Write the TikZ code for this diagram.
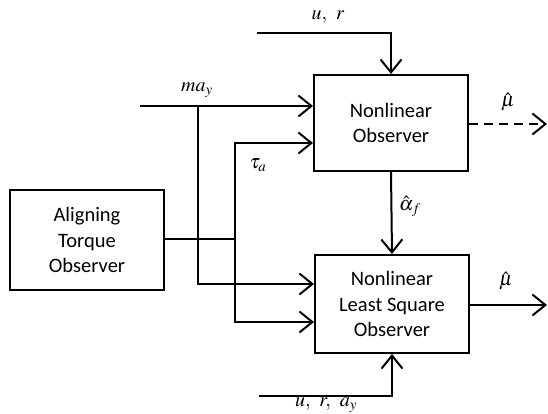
\documentclass[tikz,border=0pt]{standalone}
\usepackage{mathptmx}
\usepackage{fontspec}
\setmainfont{Carlito}
\usetikzlibrary{arrows.meta}
\begin{document}
\begin{tikzpicture}[x=1pt,y=-1pt,
  blk/.style={draw,line width=2pt,inner sep=0pt,align=center,font=\fontsize{20.5}{25.5}\selectfont},
  conn/.style={line width=2pt},
  arr/.style={conn,-{Straight Barb[length=13pt,width=21pt,line width=2pt]}},
  lbl/.style={font=\fontsize{20}{22}\selectfont,inner sep=0pt}]
\useasboundingbox (0,0) rectangle (548,413);
\node[blk,minimum width=154pt,minimum height=96pt] (no) at (391,123) {Nonlinear\\Observer};
\node[blk,minimum width=154pt,minimum height=98pt] (nls) at (392,304) {Nonlinear\\Least Square\\Observer};
\node[blk,minimum width=154pt,minimum height=100pt] (ato) at (87,240) {Aligning\\Torque\\Observer};
% coordinates
\coordinate (ur) at (257,33);
\coordinate (may) at (140,106);
\coordinate (j1) at (198,106);
\coordinate (j2) at (235,239);
\coordinate (yt) at (0,143);
\coordinate (y1) at (0,284);
\coordinate (y2) at (0,322);
\coordinate (ay) at (259,396);
\coordinate (o1) at (547,124);
\coordinate (o2) at (547,305);
% connectors
\draw[arr] (ur) -| (no.north);
\draw[arr] (may) -- (may -| no.west);
\draw[arr] (j1) |- (y1 -| nls.west);
\draw[conn] (ato.east |- j2) -- (j2);
\draw[arr] (j2) |- (yt -| no.west);
\draw[arr] (j2) |- (y2 -| nls.west);
\draw[arr] (no.south) -- (nls.north);
\draw[arr] (ay) -| (nls.south);
\draw[arr,dash pattern=on 9pt off 6pt] (no.east |- o1) -- (o1);
\draw[arr] (nls.east |- o2) -- (o2);
% labels
\node[lbl] (lur) at (328,17) {$u,\;\,r$};
\node[lbl] (lmay) at (197,90) {$ma_y$};
\node[lbl] (ltau) at (258,165) {$\tau_a$};
\node[lbl] (lmu1) at (508,102) {$\hat{\mu}$};
\node[lbl] (lal) at (410,206) {$\hat{\alpha}_f$};
\node[lbl] (lmu2) at (506,281) {$\hat{\mu}$};
\node[lbl] (lbot) at (326,405) {$u,\;\,r,\;\,a_y$};
\end{tikzpicture}
\end{document}
